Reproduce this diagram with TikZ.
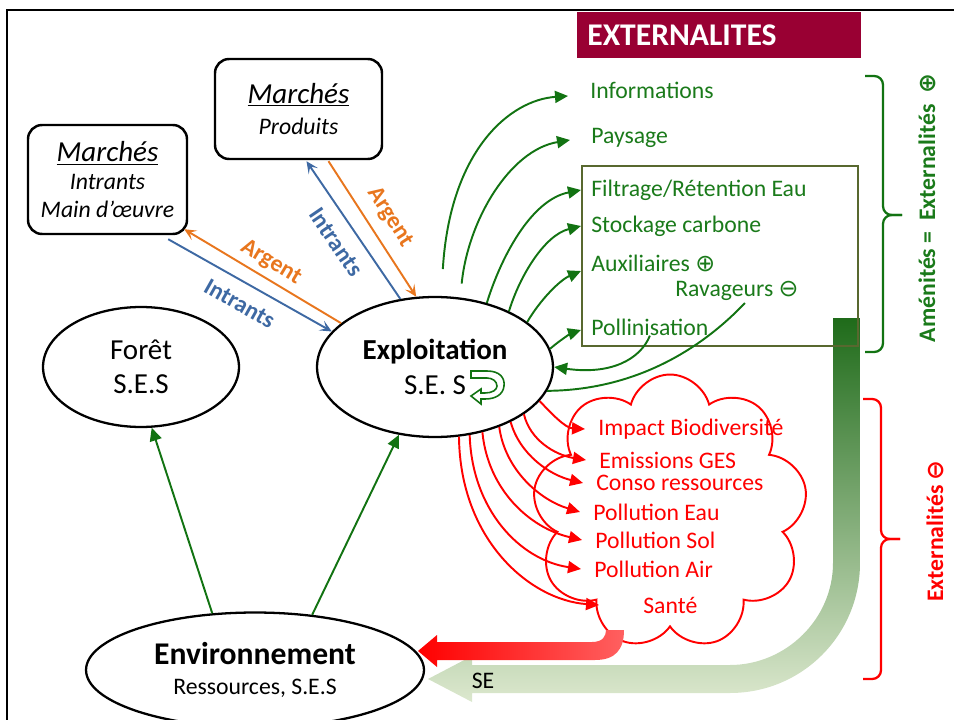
\documentclass[tikz,border=0pt]{standalone}
\usepackage{fontspec}
\setmainfont{Carlito}
\newfontfamily\symb{DejaVu Sans}
\usetikzlibrary{arrows.meta,positioning,shapes.geometric,shapes.symbols,calc}
\definecolor{vertfl}{HTML}{127312}
\definecolor{verttx}{HTML}{1A7A1A}
\definecolor{boiteol}{HTML}{58682F}
\definecolor{bordeaux}{HTML}{990033}
\definecolor{bleufl}{HTML}{3E69A3}
\definecolor{orangefl}{HTML}{E8761E}
\definecolor{sefonce}{HTML}{1F6B1A}
\definecolor{semilieu}{HTML}{9DB975}
\definecolor{seclair}{HTML}{DCE8CE}
\definecolor{rougeclair}{HTML}{FF6060}
\newcommand{\grand}{\fontsize{16.5}{19.5}\selectfont}
\newcommand{\moyen}{\fontsize{13.5}{16}\selectfont}
\tikzset{
  marche/.style={draw,rounded corners=8pt,line width=1.4pt,align=center,
    font=\moyen\itshape,inner sep=2pt},
  ses/.style={ellipse,draw,line width=1.3pt,align=center,inner sep=0pt},
  fl/.style={-{Triangle[length=2.6mm,width=2.4mm]},line width=1.1pt},
  mfl/.style={-{Stealth[length=2.4mm,width=2.2mm,inset=1.1mm]},line width=1.1pt},
  vfl/.style={fl,vertfl},
  rfl/.style={fl,red},
  amen/.style={font=\moyen,text=verttx,anchor=west,inner sep=0pt},
  ext/.style={font=\moyen,text=red,anchor=west,inner xsep=0.26cm,inner ysep=0pt},
  lbl/.style={font=\moyen\bfseries,inner sep=2pt},
  acco/.style={line width=1.3pt,rounded corners=5pt},
}

\begin{document}
\begin{tikzpicture}[x=0.02cm,y=-0.02cm]
  \useasboundingbox (0,0) rectangle (954,720);
  \clip (0,0) rectangle (954,720);
  % cadre
  \draw[line width=1.2pt] (7,760) -- (7,10) -- (1000,10);
  % bandeau
  \node[fill=bordeaux,anchor=north west,inner xsep=0.2cm,text width=5.28cm,
    minimum height=0.92cm,font=\fontsize{18}{20}\selectfont\bfseries,text=white]
    (titre) at (577,12) {EXTERNALITES};

  % fleche SE
  \shade[top color=sefonce,middle color=semilieu,bottom color=seclair]
    (833,318) -- (860,318) -- (860,563) .. controls (860,635) and (802,693) .. (730,693)
    -- (472,693) -- (472,702) -- (428,679) -- (472,656) -- (472,665) -- (730,665)
    .. controls (786,665) and (833,619) .. (833,563) -- cycle;
  \node[font=\moyen] (se) at (483,681) {SE};

  % boite amenites
  \node[draw=boiteol,line width=1.2pt,minimum width=5.52cm,minimum height=3.6cm]
    (boite) at (720,256) {};

  % nuage
  \node[cloud,cloud puffs=9,shape border rotate=12,draw=red,line width=1.1pt,fill=white,
    minimum width=5.5cm,minimum height=5.5cm] (nuage) at (670,512) {};
  \shade[left color=red,right color=rougeclair]
    (437,642) -- (592,642) .. controls (603,642) and (606,636) .. (606,630)
    -- (624,630) .. controls (624,650) and (615,660) .. (595,660)
    -- (437,660) -- (437,667) -- (418,651) -- (437,635) -- cycle;

  % noeuds
  \node[ses,minimum width=3.92cm,minimum height=2.4cm,font=\grand] (foret)
    at (141,367) {Forêt\\S.E.S};
  \node[ses,minimum width=4.72cm,minimum height=2.8cm,font=\grand] (expl)
    at (435,367) {\textbf{Exploitation}\\S.E. S};
  \node[ses,minimum width=6.76cm,minimum height=2.3cm] (env) at (255,670)
    {{\fontsize{18}{20}\selectfont\bfseries Environnement}\\[5pt]
     {\moyen Ressources, S.E.S}};
  \node[marche,minimum width=3.18cm,minimum height=2.18cm] (mi) at (107.5,179.5)
    {{\grand\underline{Marchés}}\\Intrants\\Main d’œuvre};
  \node[marche,minimum width=3.34cm,minimum height=2cm] (mp) at (298.5,109)
    {{\grand\underline{Marchés}}\\[2pt]Produits};

  % externalites positives
  \node[amen] (info) at (590,90) {Informations};
  \node[amen] (pays) at (591,138) {Paysage};
  \node[amen] (filt) at (591,190) {Filtrage/Rétention Eau};
  \node[amen] (stock) at (591,226) {Stockage carbone};
  \node[amen] (aux) at (591,263) {Auxiliaires {\symb ⊕}};
  \node[amen] (rav) at (675,291) {Ravageurs {\symb ⊖}};
  \node[amen] (pol) at (591,327) {Pollinisation};

  % externalites negatives
  \node[ext] (biod) at (585,429) {Impact Biodiversité};
  \node[ext] (ges) at (586,460) {Emissions GES};
  \node[ext] (conso) at (583,483) {Conso ressources};
  \node[ext] (eau) at (580,512) {Pollution Eau};
  \node[ext] (sol) at (582,540) {Pollution Sol};
  \node[ext] (air) at (581,569) {Pollution Air};
  \node[ext] (sante) at (630,605) {Santé};

  % marches
  \draw[mfl,bleufl] ($(mi.south east)+(-20,4)$) -- node[lbl,sloped,below=5pt] {Intrants} (expl.161);
  \draw[mfl,orangefl] (expl.155) -- node[lbl,sloped,above=1pt] {Argent} ($(mi.south east)+(-4,-6)$);
  \draw[mfl,bleufl] (expl.117) -- node[lbl,sloped,below=5pt] {Intrants} ($(mp.south)+(8,1)$);
  \draw[mfl,orangefl] ($(mp.south)+(30,1)$) -- node[lbl,sloped,above=4pt] {Argent} (expl.105);

  % environnement
  \draw[vfl] (env.127) -- (foret.-80);
  \draw[vfl] (env.44) -- (expl.-118);

  % amenites
  \draw[vfl,shorten <=0.54cm] (expl.85) .. controls (450,150) and (510,100) .. ($(info.west)+(-22,6)$);
  \draw[vfl,shorten <=0.28cm] (expl.70) .. controls (468,220) and (510,150) .. ($(pays.west)+(-21,2)$);
  \draw[vfl] (expl.51) .. controls (500,260) and (530,200) .. (boite.west |- filt.west);
  \draw[vfl] (expl.37) .. controls (520,275) and (545,235) .. (boite.west |- stock.west);
  \draw[vfl] (expl.26) .. controls (540,300) and (560,280) .. ($(boite.west |- aux.west)+(0,8)$);
  \draw[vfl] (expl.9) .. controls (560,340) and (572,333) .. ($(boite.west |- pol.west)+(0,3)$);
  \draw[vfl] (pol.south) .. controls (640,360) and (610,375) .. (expl.east);
  \draw[vertfl,line width=1.1pt] ($(rav.south)+(8,2)$) .. controls (705,345) and (640,390) .. (expl.-12);
  % boucle
  \draw[vertfl,line width=0.9pt,fill=white] (471,371) -- (487,371)
    .. controls (500,371) and (505,378) .. (504,386)
    .. controls (503,395) and (495,399) .. (485,399) -- (481,399) -- (481,404)
    -- (471,396) -- (481,389) -- (481,393) -- (485,393)
    .. controls (492,393) and (497,390) .. (497,386)
    .. controls (497,381) and (492,378) .. (487,378) -- (471,378) -- cycle;

  % impacts
  \draw[rfl] (expl.-18) .. controls (550,412) and (565,428) .. (biod.west);
  \draw[rfl] (expl.-28) .. controls (530,440) and (555,455) .. (ges.west);
  \draw[rfl] (expl.-36) .. controls (520,455) and (550,475) .. (conso.west);
  \draw[rfl] (expl.-43) .. controls (505,470) and (540,500) .. (eau.west);
  \draw[rfl] (expl.-54) .. controls (488,490) and (530,528) .. (sol.west);
  \draw[rfl] (expl.-63) .. controls (472,510) and (520,560) .. (air.west);
  \draw[rfl] (expl.-71) .. controls (460,540) and (530,600) .. ($(sante.west)+(-31,0)$);

  % accolades
  \draw[acco,vertfl] (865,76) -| (883,215) -- (902,215);
  \draw[acco,vertfl] (902,215) -- (883,215) |- (865,352);
  \draw[acco,red] (863,399) -| (881,539) -- (900,539);
  \draw[acco,red] (900,539) -- (881,539) |- (863,679);
  \node[rotate=90,font=\moyen\bfseries,text=verttx] (amenlbl) at (927,208)
    {Aménités =\ \ Externalités\ \ {\symb ⊕}};
  \node[rotate=90,font=\moyen\bfseries,text=red] (extlbl) at (935,531)
    {Externalités {\symb\bfseries ⊖}};
\end{tikzpicture}
\end{document}
